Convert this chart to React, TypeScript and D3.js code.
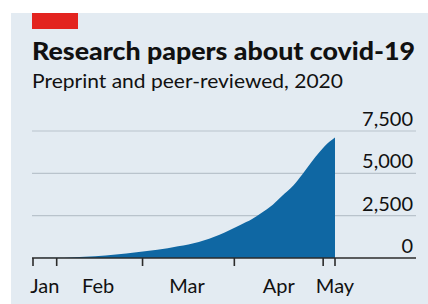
import React from "react";
import * as d3 from "d3";

// cumulative number of covid-19 papers (preprint + peer-reviewed), 2020
const dates = [
  "2020-01-24", "2020-01-31", "2020-02-07", "2020-02-14", "2020-02-21",
  "2020-02-28", "2020-03-06", "2020-03-13", "2020-03-20", "2020-03-27",
  "2020-04-03", "2020-04-07", "2020-04-10", "2020-04-14", "2020-04-17",
  "2020-04-21", "2020-04-24", "2020-04-27", "2020-04-30", "2020-05-03",
  "2020-05-05",
];
const papers = [
  0, 10, 50, 110, 210, 340, 480, 690, 950, 1380,
  1950, 2300, 2650, 3150, 3650, 4300, 4950, 5650, 6300, 6850, 7120,
];

const yTicks = [0, 2500, 5000, 7500];
const monthTicks = ["2020-01-24", "2020-02-01", "2020-03-01", "2020-04-01", "2020-05-01", "2020-05-05"];
const monthLabels = ["Jan", "Feb", "Mar", "Apr", "May"];
const labelDates = ["2020-01-28", "2020-02-15", "2020-03-16", "2020-04-16", "2020-05-05"];

const parse = d3.timeParse("%Y-%m-%d");
const fmt = d3.format(",");

const width = 428;
const height = 304;
const font = "Lato, 'Open Sans', sans-serif";

export default function App() {
  const data = dates.map((d, i) => ({ date: parse(d) as Date, value: papers[i] }));

  const x = d3
    .scaleTime()
    .domain([parse("2020-01-24") as Date, parse("2020-05-05") as Date])
    .range([33, 335]);
  const y = d3.scaleLinear().domain([0, 7500]).range([258, 131]);

  const area = d3
    .area<{ date: Date; value: number }>()
    .x(d => x(d.date))
    .y0(y(0))
    .y1(d => y(d.value))
    .curve(d3.curveMonotoneX);

  return (
    <svg width={width} height={height} style={{ position: "absolute", left: 0, top: 0 }}>
      <rect x={0} y={0} width={width} height={height} fill="#ffffff" />
      <rect x={11} y={13} width={width - 11} height={height - 13} fill="#e3ebf2" />
      <rect x={32} y={13} width={46} height={16} fill="#e3241f" />

      <text x={32} y={60} fontFamily={font} fontWeight={900} fontSize={25} fill="#111"
        textLength={383} lengthAdjust="spacingAndGlyphs">
        Research papers about covid-19
      </text>
      <text x={32} y={88} fontFamily={font} fontSize={20} fill="#111"
        textLength={311} lengthAdjust="spacingAndGlyphs">
        Preprint and peer-reviewed, 2020
      </text>

      {/* gridlines */}
      {yTicks.filter(t => t > 0).map(t => (
        <line key={t} x1={32} x2={416} y1={y(t)} y2={y(t)} stroke="#b9c3cc" strokeWidth={1.2} />
      ))}

      <path d={area(data) || ""} fill="#0f67a3" />

      {yTicks.map(t => (
        <text key={"l" + t} x={413} y={y(t) - 5} textAnchor="end" fontFamily={font}
          fontSize={20} fill="#111">
          {fmt(t)}
        </text>
      ))}

      {/* x axis */}
      <line x1={32} x2={416} y1={y(0)} y2={y(0)} stroke="#2b2b2b" strokeWidth={1.6} />
      {monthTicks.map(m => (
        <line key={m} x1={x(parse(m) as Date)} x2={x(parse(m) as Date)} y1={y(0)} y2={y(0) + 8}
          stroke="#2b2b2b" strokeWidth={1.6} />
      ))}
      {monthLabels.map((m, i) => (
        <text key={m} x={x(parse(labelDates[i]) as Date)} y={293} textAnchor="middle"
          fontFamily={font} fontSize={20} fill="#111">
          {m}
        </text>
      ))}
    </svg>
  );
}
